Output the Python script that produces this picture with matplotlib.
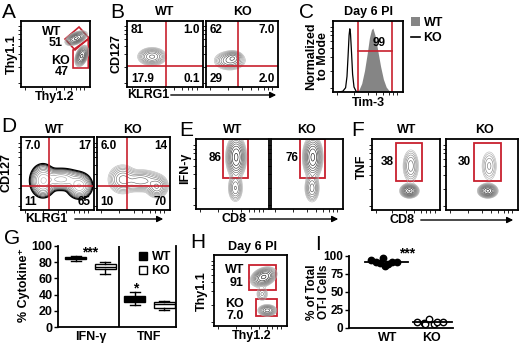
import matplotlib
matplotlib.use('Agg')
import matplotlib.pyplot as plt
import numpy as np
from matplotlib.patches import Polygon, Rectangle, FancyArrowPatch, Patch
from matplotlib.lines import Line2D

plt.rcParams['font.family'] = ['Liberation Sans', 'DejaVu Sans']
plt.rcParams['font.weight'] = 'bold'

# ---- data ----
# A: Thy1.1 / Thy1.2 gates
a_labels = ['WT', 'KO']
a_pct = ['51', '47']
# B: CD127 vs KLRG1 quadrants (top-left, top-right, bottom-left, bottom-right)
b_wt = ['81', '1.0', '17.9', '0.1']
b_ko = ['62', '7.0', '29', '2.0']
# C: Tim-3 histograms (x = axis fraction, y = normalized to mode)
c_ko_x = [0.08, 0.14, 0.18, 0.20, 0.215, 0.23, 0.24, 0.25, 0.265, 0.28, 0.30, 0.33, 0.36]
c_ko_y = [0.0, 0.01, 0.06, 0.22, 0.50, 0.80, 0.89, 0.82, 0.55, 0.25, 0.07, 0.01, 0.0]
c_wt_x = [0.33, 0.37, 0.41, 0.45, 0.49, 0.52, 0.55, 0.57, 0.60, 0.64, 0.68, 0.72, 0.76, 0.80, 0.84]
c_wt_y = [0.0, 0.03, 0.12, 0.30, 0.55, 0.76, 0.88, 0.90, 0.80, 0.58, 0.36, 0.18, 0.07, 0.02, 0.0]
c_gate = '99'
# D: CD127 vs KLRG1 day 6
d_wt = ['7.0', '17', '11', '65']
d_ko = ['6.0', '14', '10', '70']
# E / F: cytokine gates
e_pct = ['86', '76']
f_pct = ['38', '30']
# G: box plots
g_groups = ['IFN-γ', 'TNF']
g_wt_lo = [82, 27]
g_wt_q1 = [83.5, 31]
g_wt_med = [85, 34]
g_wt_q3 = [86.5, 38]
g_wt_hi = [88, 43]
g_ko_lo = [66, 21]
g_ko_q1 = [71, 24]
g_ko_med = [74, 28]
g_ko_q3 = [78, 31]
g_ko_hi = [80, 32]
# H
h_pct = ['91', '7.0']
# I: % of total OT-I cells
i_wt_x = [-0.39, -0.28, -0.18, -0.12, -0.08, 0.0, 0.1, 0.2]
i_wt = [94, 91, 90, 97.5, 86.5, 88.5, 92, 91]
i_ko_x = [-0.32, -0.18, -0.14, -0.05, 0.05, 0.14, 0.28]
i_ko = [8.8, 6.5, 5.0, 12.5, 5.5, 7.9, 8.5]
i_wt_med = 91
i_ko_med = 8

# contour blobs (cx, cy, sx, sy, rho, weight) in axis fractions
a_blobs = [(0.80, 0.74, 0.065, 0.045, 0.5, 1.0), (0.88, 0.47, 0.04, 0.065, 0.4, 1.0)]
b_wt_blobs = [(0.33, 0.46, 0.075, 0.055, 0.0, 1.0)]
b_ko_blobs = [(0.33, 0.40, 0.09, 0.06, 0.0, 0.8), (0.38, 0.45, 0.05, 0.04, 0.0, 0.6)]
d_wt_blobs = [(0.30, 0.40, 0.07, 0.09, 0.0, 1.0), (0.55, 0.42, 0.12, 0.06, 0.0, 0.8),
              (0.80, 0.33, 0.07, 0.07, 0.0, 1.0)]
d_ko_blobs = [(0.35, 0.42, 0.08, 0.08, 0.0, 0.7), (0.60, 0.40, 0.12, 0.06, 0.0, 0.8),
              (0.82, 0.32, 0.06, 0.06, 0.0, 1.0)]
e_wt_blobs = [(0.55, 0.74, 0.055, 0.12, 0.0, 1.0), (0.54, 0.30, 0.045, 0.09, 0.0, 0.3)]
e_ko_blobs = [(0.58, 0.74, 0.055, 0.12, 0.0, 1.0), (0.57, 0.30, 0.045, 0.09, 0.0, 0.35)]
f_wt_blobs = [(0.55, 0.27, 0.055, 0.04, 0.0, 1.0), (0.57, 0.62, 0.055, 0.11, 0.0, 0.25)]
f_ko_blobs = [(0.58, 0.27, 0.055, 0.04, 0.0, 1.0), (0.60, 0.62, 0.055, 0.11, 0.0, 0.15)]
h_blobs = [(0.68, 0.69, 0.07, 0.055, 0.3, 1.0), (0.73, 0.22, 0.055, 0.035, 0.0, 0.5),
           (0.66, 0.45, 0.04, 0.05, 0.0, 0.15)]

W, H = 520, 344
red = '#c8202e'
fig = plt.figure(figsize=(5.2, 3.44), dpi=100)


def box(l, t, r, b):
    return fig.add_axes([l / W, 1 - b / H, (r - l) / W, (b - t) / H])


def ftext(x, y, s, **kw):
    kw.setdefault('ha', 'center')
    kw.setdefault('va', 'center')
    kw.setdefault('fontsize', 9)
    fig.text(x / W, 1 - y / H, s, **kw)


def arrow(x1, x2, y):
    fig.add_artist(FancyArrowPatch((x1 / W, 1 - y / H), (x2 / W, 1 - y / H),
                                   transform=fig.transFigure, arrowstyle='-|>',
                                   mutation_scale=9, lw=1.0, color='k'))


ticks = [0.06, 0.3, 0.5, 0.62, 0.72, 0.8, 0.86, 0.92]


def flow_axes(l, t, r, b):
    ax = box(l, t, r, b)
    ax.set_xlim(0, 1)
    ax.set_ylim(0, 1)
    ax.set_xticks(ticks)
    ax.set_yticks(ticks)
    ax.set_xticklabels([])
    ax.set_yticklabels([])
    ax.tick_params(length=2, width=0.6, direction='out')
    for s in ax.spines.values():
        s.set_linewidth(1.3)
    return ax


def density(ax, blobs, n=9, lo=0.04, dark=1.0, outer_dark=False):
    gx, gy = np.meshgrid(np.linspace(0, 1, 220), np.linspace(0, 1, 220))
    z = np.zeros_like(gx)
    for cx, cy, sx, sy, rho, w in blobs:
        dx = (gx - cx) / sx
        dy = (gy - cy) / sy
        z += w * np.exp(-(dx * dx - 2 * rho * dx * dy + dy * dy) / (2 * (1 - rho ** 2)))
    levels = z.max() * np.geomspace(lo, 0.9, n)
    shades = np.linspace(0.4, dark, n)
    if outer_dark:
        shades = shades[::-1]
    cols = plt.cm.Greys(shades)
    lws = [0.4] * n
    if outer_dark:
        lws[0] = 1.0
        lws[1] = 0.7
    ax.contour(gx, gy, z, levels=levels, colors=cols, linewidths=lws)


def quad(ax, vx, hy, vals):
    ax.axvline(vx, color=red, lw=1.2)
    ax.axhline(hy, color=red, lw=1.2)
    kw = dict(transform=ax.transAxes, fontsize=8.5)
    ax.text(0.05, 0.96, vals[0], ha='left', va='top', **kw)
    ax.text(0.96, 0.96, vals[1], ha='right', va='top', **kw)
    ax.text(0.05, 0.03, vals[2], ha='left', va='bottom', **kw)
    ax.text(0.96, 0.03, vals[3], ha='right', va='bottom', **kw)


# ---------------- A ----------------
ftext(9, 12, 'A', fontsize=15, fontweight='normal')
ax = flow_axes(21, 21, 90, 87)
density(ax, a_blobs)
ax.add_patch(Polygon([(0.638, 0.727), (0.841, 0.909), (0.986, 0.742), (0.783, 0.561)],
                     closed=True, fill=False, ec=red, lw=1.2))
ax.add_patch(Polygon([(0.754, 0.561), (0.975, 0.727), (0.975, 0.288), (0.754, 0.288)],
                     closed=True, fill=False, ec=red, lw=1.2))
ftext(52, 32, a_labels[0])
ftext(56, 43, a_pct[0])
ftext(61, 61, a_labels[1])
ftext(62, 72, a_pct[1])
ftext(12, 54, 'Thy1.1', rotation=90)
ftext(55, 97, 'Thy1.2')

# ---------------- B ----------------
ftext(117, 12, 'B', fontsize=15, fontweight='normal')
ax = flow_axes(127, 21, 203, 87)
density(ax, b_wt_blobs, dark=0.8)
quad(ax, 0.51, 0.32, b_wt)
ax = flow_axes(206, 21, 278, 87)
density(ax, b_ko_blobs, dark=0.9)
quad(ax, 0.44, 0.32, b_ko)
ftext(165, 12, 'WT')
ftext(242, 12, 'KO')
ftext(117, 54, 'CD127', rotation=90)
ftext(127, 95, 'KLRG1', ha='left')
arrow(168, 279, 95)

# ---------------- C ----------------
ftext(307, 12, 'C', fontsize=15, fontweight='normal')
ax = flow_axes(333, 21, 403, 92)
ax.fill_between(c_wt_x, c_wt_y, color='#858585', lw=0)
ax.plot(c_ko_x, c_ko_y, color='k', lw=0.9)
ax.plot([0.36, 0.36], [0, 1], color=red, lw=1.2)
ax.plot([0.84, 0.84], [0, 1], color=red, lw=1.2)
ax.plot([0.36, 0.84], [0.58, 0.58], color=red, lw=1.2)
ax.text(0.66, 0.6, c_gate, ha='center', va='bottom', fontsize=8.5, transform=ax.transAxes)
ftext(368, 12, 'Day 6 PI')
ftext(317, 56, 'Normalized\nto Mode', rotation=90, linespacing=1.0)
ftext(368, 103, 'Tim-3')
fig.legend(handles=[Patch(facecolor='#858585', edgecolor='none'),
                    Line2D([], [], color='k', lw=1.2)],
           labels=['WT', 'KO'], loc='upper left', frameon=False, fontsize=9,
           bbox_to_anchor=(411 / W, 1 - 17 / H), bbox_transform=fig.transFigure,
           handlelength=0.7, handleheight=0.7, handletextpad=0.3, labelspacing=0.25,
           borderpad=0, borderaxespad=0)

# ---------------- D ----------------
ftext(9, 126, 'D', fontsize=15, fontweight='normal')
ax = flow_axes(21, 137, 94, 210)
density(ax, d_wt_blobs, n=10, lo=0.03, outer_dark=True)
quad(ax, 0.38, 0.33, d_wt)
ax = flow_axes(97, 137, 170, 210)
density(ax, d_ko_blobs, n=9, lo=0.03, dark=0.75)
quad(ax, 0.41, 0.33, d_ko)
ftext(55, 130, 'WT')
ftext(133, 130, 'KO')
ftext(7, 173, 'CD127', rotation=90)
ftext(25, 219, 'KLRG1', ha='left')
arrow(72, 166, 219)

# ---------------- E ----------------
ftext(186, 130, 'E', fontsize=15, fontweight='normal')
ax = flow_axes(196, 139, 269, 209)
density(ax, e_wt_blobs, n=10, lo=0.03)
ax.add_patch(Rectangle((0.37, 0.44), 0.34, 0.555, fill=False, ec=red, lw=1.3))
ax.text(0.26, 0.73, e_pct[0], ha='center', va='center', fontsize=8.5, transform=ax.transAxes)
ax = flow_axes(271, 139, 343, 209)
density(ax, e_ko_blobs, n=10, lo=0.03)
ax.add_patch(Rectangle((0.40, 0.44), 0.35, 0.555, fill=False, ec=red, lw=1.3))
ax.text(0.29, 0.73, e_pct[1], ha='center', va='center', fontsize=8.5, transform=ax.transAxes)
ftext(233, 130, 'WT')
ftext(307, 130, 'KO')
ftext(185, 168, 'IFN-γ', rotation=90)
ftext(222, 219, 'CD8', ha='left')
arrow(247, 341, 219)

# ---------------- F ----------------
ftext(358, 130, 'F', fontsize=15, fontweight='normal')
ax = flow_axes(372, 139, 440, 210)
density(ax, f_wt_blobs, n=10, lo=0.03)
ax.add_patch(Rectangle((0.35, 0.41), 0.39, 0.53, fill=False, ec=red, lw=1.3))
ax.text(0.22, 0.68, f_pct[0], ha='center', va='center', fontsize=8.5, transform=ax.transAxes)
ax = flow_axes(446, 139, 518, 210)
density(ax, f_ko_blobs, n=10, lo=0.03)
ax.add_patch(Rectangle((0.39, 0.41), 0.37, 0.53, fill=False, ec=red, lw=1.3))
ax.text(0.26, 0.68, f_pct[1], ha='center', va='center', fontsize=8.5, transform=ax.transAxes)
ftext(407, 130, 'WT')
ftext(485, 130, 'KO')
ftext(362, 167, 'TNF', rotation=90)
ftext(390, 220, 'CD8', ha='left')
arrow(418, 516, 220)

# ---------------- G ----------------
ftext(12, 239, 'G', fontsize=15, fontweight='normal')
ax = box(58, 246, 176, 327)
pos_wt = [0.6, 2.6]
pos_ko = [1.6, 3.6]
wt_stats = [dict(med=g_wt_med[i], q1=g_wt_q1[i], q3=g_wt_q3[i], whislo=g_wt_lo[i],
                 whishi=g_wt_hi[i], fliers=[]) for i in range(2)]
ko_stats = [dict(med=g_ko_med[i], q1=g_ko_q1[i], q3=g_ko_q3[i], whislo=g_ko_lo[i],
                 whishi=g_ko_hi[i], fliers=[]) for i in range(2)]
ax.bxp(wt_stats, positions=pos_wt, widths=0.7, patch_artist=True, showfliers=False,
       boxprops=dict(facecolor='k', edgecolor='k', lw=1),
       medianprops=dict(color='k', lw=1), whiskerprops=dict(color='k', lw=1),
       capprops=dict(color='k', lw=1))
ax.bxp(ko_stats, positions=pos_ko, widths=0.7, patch_artist=True, showfliers=False,
       boxprops=dict(facecolor='w', edgecolor='k', lw=1),
       medianprops=dict(color='k', lw=1), whiskerprops=dict(color='k', lw=1),
       capprops=dict(color='k', lw=1))
ax.axvline(2.07, color='k', lw=1.3)
ax.set_xlim(0, 4)
ax.set_ylim(0, 100)
ax.set_yticks([0, 20, 40, 60, 80, 100])
ax.set_xticks([1.1, 3.1])
ax.set_xticklabels(g_groups)
ax.tick_params(axis='x', length=0, labelsize=9, pad=3)
ax.tick_params(axis='y', length=3, width=1, labelsize=9, pad=1)
ax.spines['top'].set_visible(False)
for s in ['left', 'right', 'bottom']:
    ax.spines[s].set_linewidth(1.3)
ax.text(1.1, 92, '***', ha='center', va='center', fontsize=10)
ax.text(2.65, 47, '*', ha='center', va='center', fontsize=10)
ax.legend(handles=[Line2D([], [], marker='s', ls='', mfc='k', mec='k', ms=6),
                   Line2D([], [], marker='s', ls='', mfc='w', mec='k', ms=6, mew=1)],
          labels=['WT', 'KO'], loc='upper right', frameon=False, fontsize=9,
          handlelength=0.8, handletextpad=0.3, labelspacing=0.2,
          borderpad=0.1, borderaxespad=0.3)
ftext(24, 285, '% Cytokine⁺', rotation=90)

# ---------------- H ----------------
ftext(198, 242, 'H', fontsize=15, fontweight='normal')
ax = flow_axes(214, 255, 287, 326)
density(ax, h_blobs, n=10, lo=0.03)
ax.add_patch(Rectangle((0.48, 0.51), 0.37, 0.35, fill=False, ec=red, lw=1.3))
ax.add_patch(Rectangle((0.58, 0.14), 0.28, 0.24, fill=False, ec=red, lw=1.3))
ftext(244, 270, 'WT', ha='right')
ftext(244, 283, h_pct[0], ha='right')
ftext(244, 304, 'KO', ha='right')
ftext(244, 316, h_pct[1], ha='right')
ftext(253, 247, 'Day 6 PI')
ftext(202, 291, 'Thy1.1', rotation=90)
ftext(252, 336, 'Thy1.2')

# ---------------- I ----------------
ftext(318, 245, 'I', fontsize=15, fontweight='normal')
ax = box(349, 256, 453, 328)
ax.plot(i_wt_x, i_wt, 'o', ms=4.6, mfc='k', mec='k', clip_on=False)
ax.plot(np.add(i_ko_x, 1), i_ko, 'o', ms=4.6, mfc='w', mec='k', mew=1, clip_on=False)
ax.plot([-0.52, 0.47], [i_wt_med, i_wt_med], color='k', lw=1.3)
ax.plot([0.57, 1.48], [i_ko_med, i_ko_med], color='k', lw=1.3)
ax.set_xlim(-0.9, 1.5)
ax.set_ylim(0, 100)
ax.set_yticks([0, 25, 50, 75, 100])
ax.set_xticks([0, 1])
ax.set_xticklabels(['WT', 'KO'])
ax.tick_params(axis='x', length=0, labelsize=9, pad=3)
ax.tick_params(axis='y', length=3, width=1, labelsize=8.5, pad=1)
ax.spines['top'].set_visible(False)
ax.spines['right'].set_visible(False)
for s in ['left', 'bottom']:
    ax.spines[s].set_linewidth(1.3)
ax.text(0.45, 103, '***', ha='center', va='center', fontsize=10)
ftext(318, 292, '% of Total\nOT-I Cells', rotation=90, linespacing=1.0, fontsize=8.5)

fig.savefig('out.png', dpi=100)
